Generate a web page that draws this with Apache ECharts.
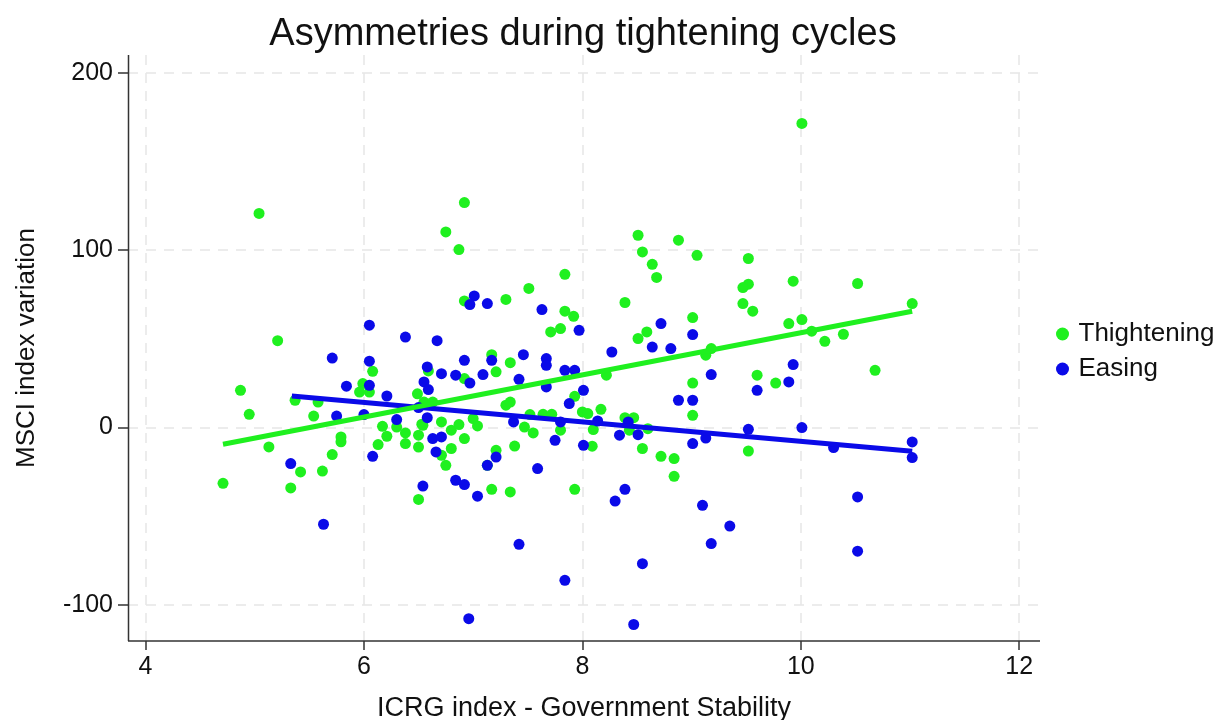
<!DOCTYPE html>
<html>
<head>
<meta charset="utf-8">
<script src="https://cdn.jsdelivr.net/npm/echarts@6/dist/echarts.min.js"></script>
<style>html,body{margin:0;padding:0;background:#fff}#c{width:1223px;height:720px}</style>
</head>
<body>
<div id="c"></div>
<script>
const xTicks = [4, 6, 8, 10, 12];
const yTicks = [-100, 0, 100, 200];

const tightening = [
[4.71,-31.4],[4.87,21],[4.95,7.5],[5.04,120.7],[5.13,-10.9],[5.21,49],[5.33,-34],[5.42,-25],[5.62,-24.5],[5.71,-15.2],
[5.79,-5.3],[5.79,-8],[5.54,6.5],[5.58,14.4],[5.37,15.4],[6.08,31.7],[5.99,24.8],[5.96,20],[6.05,20],[6.17,0.7],
[6.30,0.3],[6.21,-4.9],[6.13,-9.6],[6.38,-3],[6.38,-9],[6.50,-11],[6.50,-4.3],[6.53,1.9],[6.49,19],[6.50,-40.5],
[6.92,126.8],[6.75,110.3],[6.87,100.3],[6.92,71.4],[7.30,72.2],[7.51,78.4],[7.84,86.4],[7.84,65.6],[7.92,62.7],[7.71,53.9],
[7.80,55.8],[10.01,171.4],[8.51,108.4],[8.88,105.6],[8.55,99],[9.05,97.1],[8.64,92],[8.68,84.6],[9.52,95.3],[9.52,80.8],
[9.47,78.9],[9.93,82.5],[10.52,81.2],[9.47,69.9],[9.56,65.6],[8.39,70.5],[11.02,69.9],[9.01,62],[9.89,58.6],[10.01,60.9],
[10.10,54.3],[10.22,48.6],[10.39,52.6],[8.59,53.9],[8.51,50.2],[9.18,44.5],[10.68,32.3],[9.13,40.8],[8.22,29.5],[9.01,25.1],
[9.60,29.5],[9.77,25.1],[9.01,6.9],[7.93,17.6],[8.0,8.8],[8.05,7.9],[8.17,10.3],[8.39,5.6],[8.47,5.6],[8.43,-1.5],
[8.60,-0.6],[8.10,-1.1],[8.09,-10.5],[8.55,-11.8],[8.72,-16.2],[8.84,-17.5],[8.84,-27.5],[7.93,-34.8],[9.52,-13.2],[7.80,-1.5],
[6.59,31.9],[6.54,1.3],[6.55,14.4],[6.63,14.4],[6.71,3.2],[6.80,-1.5],[6.87,1.7],[6.92,-6.2],[6.80,-11.8],[6.71,-15.6],
[6.75,-21.3],[7.00,5.1],[7.04,0.9],[6.92,27.6],[7.17,41.1],[7.21,31.4],[7.34,36.6],[7.30,12.6],[7.34,14.4],[7.21,-12.8],
[7.13,-21.3],[7.17,-34.8],[7.34,-36.3],[7.38,-10.4],[7.47,0.3],[7.55,-3],[7.64,7.5],[7.72,7.5],[7.52,7.3]
];

const easing = [
[6.05,57.7],[6.38,51],[5.71,39.2],[6.05,37.4],[5.84,23.3],[6.05,23.8],[6.21,17.8],[5.75,6.5],[6.0,7.3],[6.30,4.5],
[6.08,-16.2],[5.33,-20.3],[6.54,-33],[6.58,34.2],[6.55,25.7],[6.59,21.4],[6.58,5.6],[5.63,-54.5],[6.67,49],
[7.01,74.2],[6.97,69.3],[7.13,69.9],[7.63,66.5],[7.97,54.8],[8.72,58.6],[9.01,52.4],[8.27,42.6],[8.64,45.4],[8.81,44.5],
[9.93,35.5],[9.89,25.7],[9.60,21],[9.18,29.9],[7.84,32.3],[7.93,32.3],[8.01,21],[7.88,13.5],[8.88,15.4],[9.01,15.4],
[8.14,3.7],[8.42,3.2],[8.34,-4.3],[8.51,-4],[8.01,-10],[9.01,-9],[9.13,-5.9],[9.52,-1],[10.01,0],[10.30,-11.3],
[11.02,-8.1],[11.02,-16.9],[7.75,-7.2],[8.39,-34.8],[8.30,-41.4],[9.10,-43.8],[10.52,-39.1],[9.35,-55.5],[9.18,-65.4],
[10.52,-69.7],[8.55,-76.7],[7.84,-86.1],[8.47,-111],[6.96,-107.7],[7.42,-65.8],[7.59,-23.1],[6.84,-29.7],[6.92,-32.1],
[7.04,-38.7],[7.21,-16.6],[7.13,-21.3],[6.63,-6.2],[6.71,-5.3],[6.66,-13.7],[7.37,3.2],[7.80,3.2],[7.67,22.9],
[7.42,27.2],[6.97,25.1],[7.09,29.9],[6.92,37.9],[7.17,37.9],[7.46,41.1],[7.67,38.9],[7.67,35.1],[6.84,29.5],[6.71,30.4],
[6.50,11.3]
];

const fitTightening = [[4.71,-9.4],[11.02,65.6]];
const fitEasing = [[5.34,17.8],[11.02,-13.4]];

const GREEN = '#1ff01f';
const BLUE = '#0a0ae8';
const FONT = '"Liberation Sans", Arial, sans-serif';

const chart = echarts.init(document.getElementById('c'), null, {renderer: 'canvas'});
chart.setOption({
  animation: false,
  backgroundColor: '#fff',
  title: {
    text: 'Asymmetries during tightening cycles',
    left: 578, top: 11, textAlign: 'center',
    textStyle: {fontFamily: FONT, fontSize: 38, fontWeight: 'normal', color: '#111'}
  },
  legend: {
    orient: 'vertical', left: 1051, top: 316, itemGap: 9,
    itemWidth: 22, itemHeight: 13,
    textStyle: {fontFamily: FONT, fontSize: 26, color: '#111'},
    data: [
      {name: 'Thightening', icon: 'circle', itemStyle: {color: GREEN}},
      {name: 'Easing', icon: 'circle', itemStyle: {color: BLUE}}
    ]
  },
  grid: {left: 128, top: 55, width: 912, height: 586, containLabel: false, outerBoundsMode: 'none'},
  xAxis: {
    type: 'value', min: 3.84, max: 12.19,
    name: 'ICRG index - Government Stability', nameLocation: 'middle', nameGap: 54,
    nameTextStyle: {fontFamily: FONT, fontSize: 27, color: '#111'},
    axisLine: {show: false, onZero: false},
    axisTick: {show: true, inside: false, customValues: xTicks, length: 9, lineStyle: {color: '#333', width: 1.5}},
    axisLabel: {customValues: xTicks, fontFamily: FONT, fontSize: 25, color: '#111', margin: 14},
    splitLine: {show: true, lineStyle: {color: '#e6e6e6', type: [10, 8], width: 1.5}}
  },
  yAxis: {
    type: 'value', min: -120.3, max: 210,
    name: 'MSCI index variation', nameLocation: 'middle', nameGap: 88, nameRotate: 90,
    nameTextStyle: {fontFamily: FONT, fontSize: 26, color: '#111'},
    axisLine: {show: false, onZero: false},
    axisTick: {show: true, inside: false, customValues: yTicks, length: 10, lineStyle: {color: '#333', width: 1.5}},
    axisLabel: {customValues: yTicks, fontFamily: FONT, fontSize: 25, color: '#111', margin: 15},
    splitLine: {show: true, lineStyle: {color: '#e6e6e6', type: [10, 8], width: 1.5}}
  },
  series: [
    {name: 'Thightening', type: 'scatter', data: tightening, symbolSize: 11, itemStyle: {color: GREEN, opacity: 1}, z: 3},
    {name: 'Easing', type: 'scatter', data: easing, symbolSize: 11, itemStyle: {color: BLUE, opacity: 1}, z: 4},
    {name: 'fitE', type: 'line', data: fitEasing, showSymbol: false, symbol: 'none', lineStyle: {color: BLUE, width: 5}, z: 5},
    {name: 'fitT', type: 'line', data: fitTightening, showSymbol: false, symbol: 'none', lineStyle: {color: GREEN, width: 5}, z: 6}
  ],
  graphic: [
    {type: 'line', z: 10, shape: {x1: 128.5, y1: 55, x2: 128.5, y2: 641}, style: {stroke: '#333', lineWidth: 1.5}},
    {type: 'line', z: 10, shape: {x1: 128, y1: 641, x2: 1040, y2: 641}, style: {stroke: '#333', lineWidth: 1.5}}
  ]
});
</script>
</body>
</html>
